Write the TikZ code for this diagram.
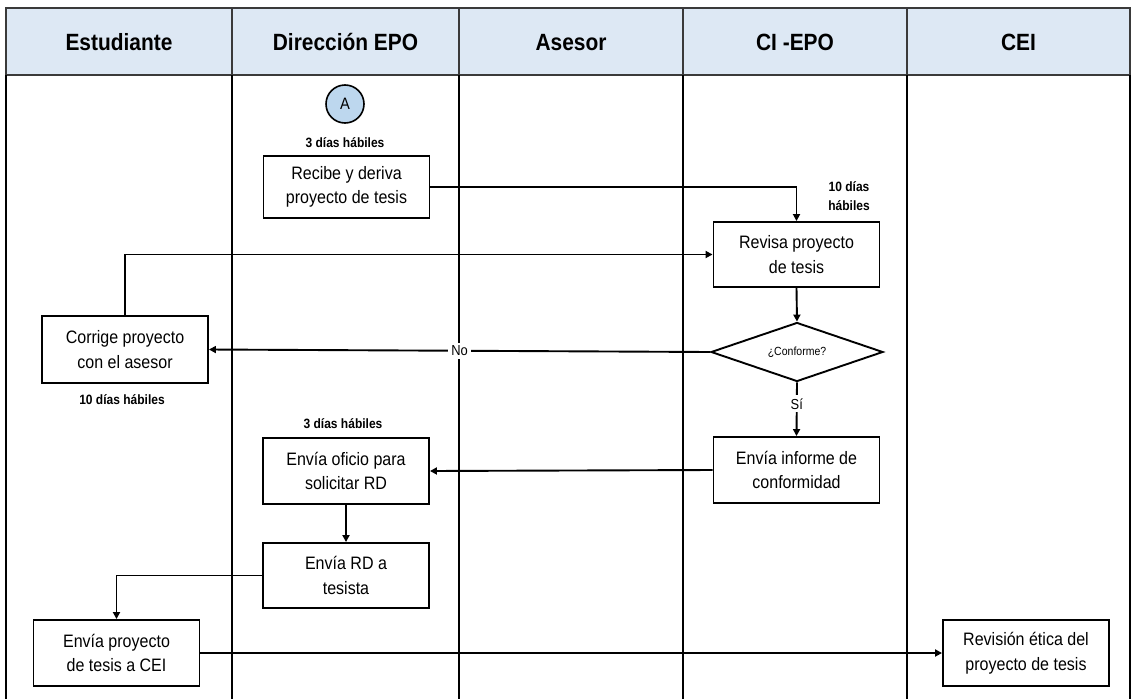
\documentclass[tikz,border=0pt]{standalone}
\usepackage{fontspec}
\setmainfont{Liberation Sans}[FakeStretch=0.89]
\usetikzlibrary{arrows.meta,shapes.geometric}
\definecolor{hdrfill}{HTML}{DDE8F4}
\definecolor{circfill}{HTML}{BDD7EE}
\definecolor{frame}{HTML}{3A3A3A}
\begin{document}
\begin{tikzpicture}[x=1pt,y=-1pt,
  box/.style={draw=black,line width=1.9pt,fill=white,minimum width=166pt,minimum height=66pt,inner sep=2pt,align=center,font=\fontsize{18}{24.5}\selectfont},
  hdr/.style={anchor=base,font=\fontsize{23.5}{26}\selectfont\bfseries},
  note/.style={font=\fontsize{13.5}{19}\selectfont\bfseries,align=center},
  lbl/.style={fill=white,inner sep=3pt,font=\fontsize{14.5}{16}\selectfont},
  flow/.style={line width=1.9pt,-{Triangle[length=7pt,width=7pt]}},
  lane/.style={line width=1.2pt,draw=black}]
\useasboundingbox (0,0) rectangle (1135,699);
% header
\draw[fill=hdrfill,draw=frame,line width=1.3pt] (6,8) rectangle (1130,75);
\foreach \x in {232,459,683,907}{\draw[draw=frame,line width=1.3pt] (\x,8) -- (\x,75);}
\foreach \x in {6,232,459,683,907,1130}{\draw[lane] (\x,75) -- (\x,699);}
\node[hdr] (h1) at (119,50) {Estudiante};
\node[hdr] (h2) at (345.5,50) {Dirección EPO};
\node[hdr] (h3) at (571,50) {Asesor};
\node[hdr] (h4) at (795,50) {CI -EPO};
\node[hdr] (h5) at (1018.5,50) {CEI};
% nodes
\node[circle,draw=black,line width=1.6pt,fill=circfill,minimum size=38pt,inner sep=0pt,font=\fontsize{16.5}{18}\selectfont] (A) at (345,104) {A};
\node[note] (n1) at (345,143) {3 días hábiles};
\node[box,minimum height=62pt] (recibe) at (346.5,187) {Recibe y deriva\\proyecto de tesis};
\node[note] (n2) at (849,196) {10 días\\hábiles};
\node[box,minimum height=65pt] (revisa) at (796.5,254.5) {Revisa proyecto\\de tesis};
\node[diamond,draw=black,line width=1.9pt,fill=white,minimum width=172pt,minimum height=59pt,inner sep=0pt,aspect=2.9,font=\fontsize{11.8}{13}\selectfont] (conf) at (797,352) {¿Conforme?};
\node[box,minimum height=67pt] (corrige) at (125,349.5) {Corrige proyecto\\con el asesor};
\node[note] (n3) at (122,400) {10 días hábiles};
\node[box] (informe) at (796.5,470) {Envía informe de\\conformidad};
\node[note] (n4) at (343,424) {3 días hábiles};
\node[box] (oficio) at (346,471) {Envía oficio para\\solicitar RD};
\node[box,minimum height=65pt] (envrd) at (346,575.5) {Envía RD a\\tesista};
\node[box] (envproy) at (116.5,653) {Envía proyecto\\de tesis a CEI};
\node[box] (revision) at (1026,653) {Revisión ética del\\proyecto de tesis};
% connectors
\draw[flow] (recibe.east) -| (revisa.north);
\draw[flow] (corrige.north) |- (revisa.west);
\draw[flow] (revisa.south) -- (conf.north);
\draw[flow] (conf.west) -- node[lbl,pos=0.5] (no) {No} (corrige.east);
\draw[flow] (conf.south) -- node[lbl,pos=0.4] (si) {Sí} (informe.north);
\draw[flow] (informe.west) -- (oficio.east);
\draw[flow] (oficio.south) -- (envrd.north);
\draw[flow] (envrd.west) -| (envproy.north);
\draw[flow] (envproy.east) -- (revision.west);
\end{tikzpicture}
\end{document}
